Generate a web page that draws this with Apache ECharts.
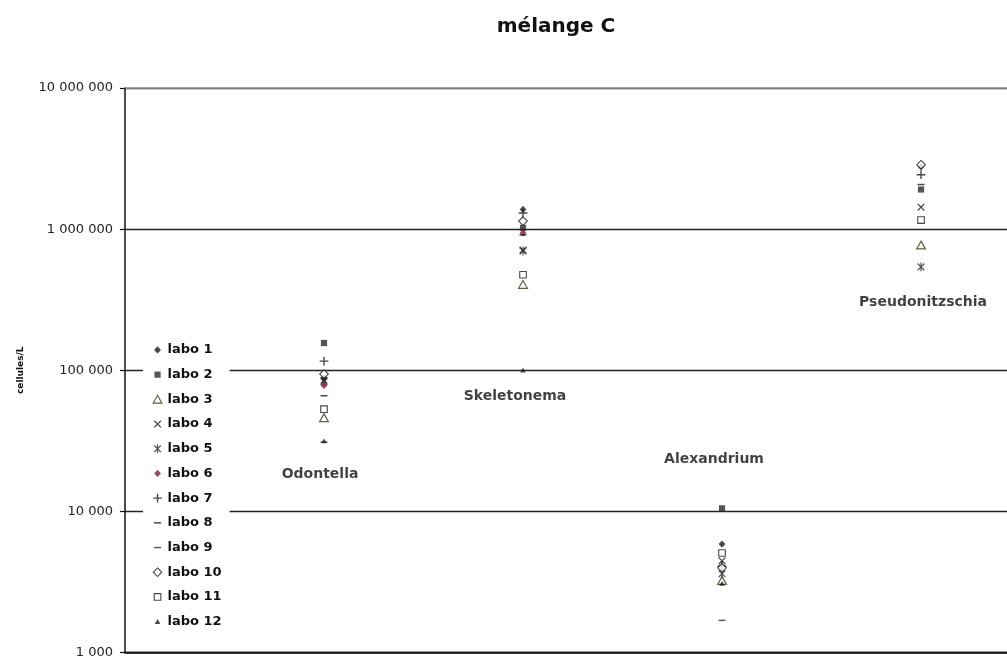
<!DOCTYPE html>
<html>
<head>
<meta charset="utf-8">
<title>mélange C</title>
<script src="https://cdn.jsdelivr.net/npm/echarts@6/dist/echarts.min.js"></script>
<style>
  html, body { margin: 0; padding: 0; background: #fff; }
  #chart { width: 1007px; height: 659px; }
</style>
</head>
<body>
<div id="chart"></div>
<script>
// Taxa counted in the mixture, in order along the horizontal axis
const taxa = ['Odontella', 'Skeletonema', 'Alexandrium', 'Pseudonitzschia'];

// Counts reported by each laboratory (cells per litre), one value per taxon
const labo1  = [88000,  1380000, 5870,  2770000];
const labo2  = [156000, 1020000, 10500, 1910000];
const labo3  = [46000,  405000,  3230,  770000];
const labo4  = [85000,  710000,  4460,  1430000];
const labo5  = [83000,  700000,  3610,  540000];
const labo6  = [78000,  940000,  null,  null];
const labo7  = [116000, 1300000, 4100,  2430000];
const labo8  = [66000,  910000,  null,  2070000];
const labo9  = [31000,  null,    1690,  null];
const labo10 = [94000,  1140000, 3980,  2860000];
const labo11 = [53000,  475000,  5070,  1160000];
const labo12 = [31500,  100000,  3080,  null];

const laboNames = ['labo 1', 'labo 2', 'labo 3', 'labo 4', 'labo 5', 'labo 6',
                   'labo 7', 'labo 8', 'labo 9', 'labo 10', 'labo 11', 'labo 12'];
const laboValues = [labo1, labo2, labo3, labo4, labo5, labo6,
                    labo7, labo8, labo9, labo10, labo11, labo12];

// Level (cells/L) at which each taxon name is written
const taxonNameLevel = [18200, 65700, 23200, 305000];

// Logarithmic scale bounds
const yMin = 1000;
const yMax = 10000000;

// Horizontal extent: taxa sit at 1..4, the visible part ends a little past 4
const xMin = 0;
const xMax = 4.432;

const SANS = '"DejaVu Sans", "Liberation Sans", sans-serif';
const INK = '#1a1a1a';

// Marker outlines drawn in a 10x10 frame; the two corner anchors keep that frame
const FRAME = ' M0,0 L0,0 M10,10 L10,10';
const shapes = {
  diamondSmall: 'path://M5,1.4 L8.4,5 L5,8.6 L1.6,5 Z' + FRAME,
  square:       'path://M1.9,1.9 H8.1 V8.1 H1.9 Z' + FRAME,
  triangle:     'path://M5,1.0 L9.4,8.8 L0.6,8.8 Z' + FRAME,
  cross:        'path://M1.2,2.1 L2.1,1.2 L5,4.1 L7.9,1.2 L8.8,2.1 L5.9,5 L8.8,7.9 L7.9,8.8 L5,5.9 L2.1,8.8 L1.2,7.9 L4.1,5 Z' + FRAME,
  star:         'path://M1.2,2.1 L2.1,1.2 L5,4.1 L7.9,1.2 L8.8,2.1 L5.9,5 L8.8,7.9 L7.9,8.8 L5,5.9 L2.1,8.8 L1.2,7.9 L4.1,5 Z M4.4,0.6 H5.6 V9.4 H4.4 Z' + FRAME,
  plus:         'path://M4.3,0.6 H5.7 V4.3 H9.4 V5.7 H5.7 V9.4 H4.3 V5.7 H0.6 V4.3 H4.3 Z' + FRAME,
  dash:         'path://M1.5,4.25 H8.5 V5.75 H1.5 Z' + FRAME,
  diamondOpen:  'path://M5,0.7 L9.3,5 L5,9.3 L0.7,5 Z' + FRAME,
  squareOpen:   'path://M1.7,1.7 H8.3 V8.3 H1.7 Z' + FRAME,
  triSmall:     'path://M5,2.4 L7.8,7.3 L2.2,7.3 Z' + FRAME
};

const markerStyles = [
  { symbol: shapes.diamondSmall, itemStyle: { color: INK } },
  { symbol: shapes.square,       itemStyle: { color: '#2a2a2a' } },
  { symbol: shapes.triangle,     itemStyle: { color: '#ffffff', borderColor: '#3a3a12', borderWidth: 1.2 } },
  { symbol: shapes.cross,        itemStyle: { color: INK } },
  { symbol: shapes.star,         itemStyle: { color: '#2a2a2a' } },
  { symbol: shapes.diamondSmall, itemStyle: { color: '#8e1230' } },
  { symbol: shapes.plus,         itemStyle: { color: INK } },
  { symbol: shapes.dash,         itemStyle: { color: INK } },
  { symbol: shapes.dash,         itemStyle: { color: '#333333' } },
  { symbol: shapes.diamondOpen,  itemStyle: { color: '#ffffff', borderColor: INK, borderWidth: 1.1 } },
  { symbol: shapes.squareOpen,   itemStyle: { color: '#ffffff', borderColor: INK, borderWidth: 1.1 } },
  { symbol: shapes.triSmall,     itemStyle: { color: INK } }
];

const laboSeries = laboNames.map((name, k) => ({
  name: name,
  type: 'scatter',
  symbol: markerStyles[k].symbol,
  symbolSize: 10,
  itemStyle: markerStyles[k].itemStyle,
  emphasis: { disabled: true },
  z: 3,
  data: laboValues[k]
    .map((v, i) => (v == null ? null : [i + 1, v]))
    .filter(p => p !== null)
}));

// Horizontal nudges so each taxon name sits where it is written
const nameNudge = [-4, -8, -8, 2];

const taxonNameSeries = {
  name: 'taxa',
  type: 'scatter',
  symbolSize: 0,
  silent: true,
  z: 4,
  label: {
    show: true,
    position: 'inside',
    formatter: '{b}',
    color: '#111',
    fontFamily: SANS,
    fontWeight: 'bold',
    fontSize: 14
  },
  data: taxa.map((t, i) => ({
    name: t,
    value: [i + 1, taxonNameLevel[i]],
    label: { offset: [nameNudge[i], 0] }
  }))
};

const chart = echarts.init(document.getElementById('chart'), null, { renderer: 'canvas' });

chart.setOption({
  backgroundColor: '#ffffff',
  animation: false,
  graphic: [{
    type: 'text',
    x: 556,
    y: 27,
    style: {
      text: 'mélange C',
      fill: '#111',
      font: 'bold 20px ' + SANS,
      align: 'center',
      verticalAlign: 'middle'
    }
  }],
  grid: { left: 125, top: 88, bottom: 1.5, right: 0, containLabel: false },
  legend: {
    orient: 'vertical',
    left: 143,
    top: 337.6,
    padding: [5, 8, 5, 9],
    backgroundColor: '#ffffff',
    itemWidth: 10,
    itemHeight: 10,
    itemGap: 10,
    itemTextGap: 2,
    selectedMode: false,
    itemStyle: { borderWidth: 1.1 },
    textStyle: {
      fontFamily: SANS,
      fontWeight: 'bold',
      fontSize: 13,
      lineHeight: 14.7,
      color: '#111'
    },
    data: laboNames
  },
  xAxis: [{
    type: 'value',
    min: xMin,
    max: xMax,
    axisLine: { show: true, onZero: false, lineStyle: { color: '#111', width: 1.5 } },
    axisTick: { show: false },
    axisLabel: { show: false },
    splitLine: { show: false }
  }, {
    // lighter frame line along the top of the plotting area
    type: 'value',
    position: 'top',
    min: xMin,
    max: xMax,
    axisLine: { show: true, onZero: false, lineStyle: { color: '#9a9a9a', width: 1.6 } },
    axisTick: { show: false },
    axisLabel: { show: false },
    splitLine: { show: false }
  }],
  yAxis: {
    type: 'log',
    logBase: 10,
    min: yMin,
    max: yMax,
    name: 'cellules/L',
    nameLocation: 'middle',
    nameRotate: 90,
    nameGap: 100,
    nameTextStyle: { fontFamily: SANS, fontWeight: 'bold', fontSize: 9, color: '#111' },
    axisLine: { show: true, lineStyle: { color: '#111', width: 1.5 } },
    axisTick: { show: true, inside: false, length: 5, lineStyle: { color: '#111', width: 1.2 } },
    axisLabel: {
      margin: 12,
      fontFamily: SANS,
      fontSize: 13,
      color: '#222',
      formatter: v => String(Math.round(v)).replace(/\B(?=(\d{3})+(?!\d))/g, ' ')
    },
    splitLine: {
      show: true,
      lineStyle: { color: '#222', width: 1.3 }
    }
  },
  series: laboSeries.concat([taxonNameSeries])
});
</script>
</body>
</html>
